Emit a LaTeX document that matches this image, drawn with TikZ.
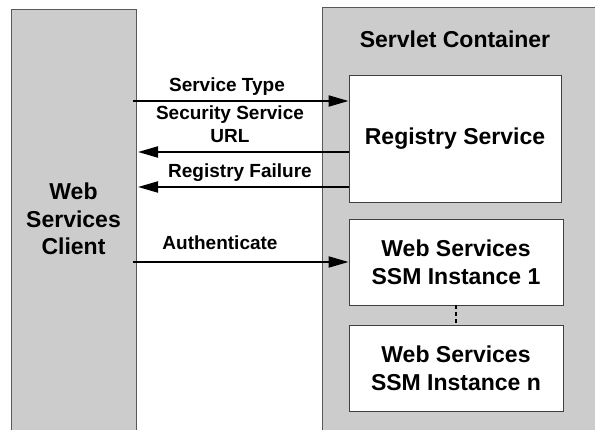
\documentclass[tikz,border=0pt]{standalone}
\usepackage{fontspec}
\setmainfont{Liberation Sans}
\usetikzlibrary{arrows.meta}

\begin{document}
\begin{tikzpicture}[x=1pt, y=-1pt,
    column/.style={draw=black!65, fill=black!20, line width=0.9pt, inner sep=0pt},
    box/.style={draw=black!75, fill=white, line width=0.9pt, align=center,
      minimum width=214pt, minimum height=86pt, inner sep=0pt,
      font=\fontsize{23}{28}\selectfont\bfseries},
    msg/.style={line width=2pt, -{Triangle[length=20pt, width=11pt]}},
    lbl/.style={anchor=base, align=center, font=\fontsize{19}{23}\selectfont\bfseries}]

    \useasboundingbox (0,0) rectangle (595,430);
    \clip (0,0) rectangle (595,430);

    % Draw the two columns
    \node[column, minimum width=125pt, minimum height=440pt] (client) at (73.5,229) {};
    \node[column, minimum width=290pt, minimum height=440pt] (container) at (467,227) {};

    \node[lbl, font=\fontsize{23}{27.5}\selectfont\bfseries] (clientname) at (73.5,255) {Web\\Services\\Client};
    \node[lbl, font=\fontsize{23}{28}\selectfont\bfseries] (containername) at (455,48) {Servlet Container};

    % Boxes inside the container
    \node[box, minimum width=212pt, minimum height=127pt] (registry) at (455,138.5) {Registry Service};
    \node[box] (ssmone) at (456,262) {Web Services\\SSM Instance 1};
    \node[box] (ssmn) at (456,368) {Web Services\\SSM Instance n};

    \draw[line width=2pt, dash pattern=on 4pt off 3pt] (ssmone) -- (ssmn);

    % Messages between client and registry
    \coordinate (st) at (133,101);
    \coordinate (url) at (138,152);
    \coordinate (fail) at (138,187);
    \coordinate (auth) at (133,262);

    \draw[msg] (st) -- (st -| registry.west);
    \draw[msg] (url -| registry.west) -- (url);
    \draw[msg] (fail -| registry.west) -- (fail);
    \draw[msg] (auth) -- (auth -| ssmone.west);

    % Label the messages
    \node[lbl] (stlabel) at (227,92) {Service Type};
    \node[lbl] (urllabel) at (230,143) {Security Service\\URL};
    \node[lbl] (faillabel) at (240,178) {Registry Failure};
    \node[lbl] (authlabel) at (220,250) {Authenticate};

\end{tikzpicture}
\end{document}
